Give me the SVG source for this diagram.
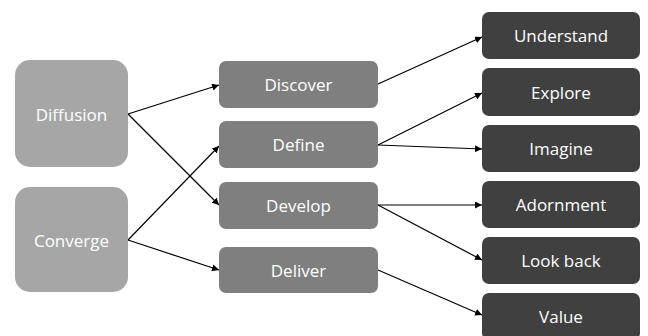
<svg xmlns="http://www.w3.org/2000/svg" width="648" height="336" viewBox="0 0 648 336">
<style>
.t{font-family:"Open Sans","Noto Sans","DejaVu Sans",sans-serif;font-size:17px;fill:#fff;text-anchor:middle;dominant-baseline:central}
.a{fill:#A6A6A6}
.b{fill:#7F7F7F}
.c{fill:#404040}
.e{stroke:#000;stroke-width:1.2;fill:none;marker-end:url(#ah)}
</style>
<defs>
<marker id="ah" viewBox="0 0 10 10" refX="10" refY="5" markerWidth="7" markerHeight="7" markerUnits="userSpaceOnUse" orient="auto">
<path d="M0,0 L10,5 L0,10 z" fill="#000"/>
</marker>
</defs>
<rect width="648" height="336" fill="#fff"/>
<g id="connectors">
<line class="e" x1="128" y1="114" x2="219" y2="85"/>
<line class="e" x1="128" y1="114" x2="219" y2="205"/>
<line class="e" x1="128" y1="240" x2="219" y2="146"/>
<line class="e" x1="128" y1="240" x2="219" y2="270"/>
<line class="e" x1="378" y1="84" x2="482" y2="37"/>
<line class="e" x1="378" y1="145" x2="482" y2="93"/>
<line class="e" x1="378" y1="145" x2="482" y2="149"/>
<line class="e" x1="378" y1="205" x2="482" y2="205"/>
<line class="e" x1="378" y1="205" x2="482" y2="260"/>
<line class="e" x1="378" y1="270" x2="482" y2="315"/>
</g>
<g id="diffusion"><rect class="a" x="15" y="60" width="113" height="107" rx="15"/><text class="t" x="71.5" y="114">Diffusion</text></g>
<g id="converge"><rect class="a" x="15" y="187" width="113" height="105" rx="15"/><text class="t" x="71.5" y="240">Converge</text></g>
<g id="discover"><rect class="b" x="219" y="61" width="159" height="47" rx="7"/><text class="t" x="298.5" y="84.5">Discover</text></g>
<g id="define"><rect class="b" x="219" y="121" width="159" height="47" rx="7"/><text class="t" x="298.5" y="144.5">Define</text></g>
<g id="develop"><rect class="b" x="219" y="182" width="159" height="47" rx="7"/><text class="t" x="298.5" y="205.5">Develop</text></g>
<g id="deliver"><rect class="b" x="219" y="247" width="159" height="46" rx="7"/><text class="t" x="298.5" y="270">Deliver</text></g>
<g id="understand"><rect class="c" x="482" y="12" width="158" height="47" rx="7"/><text class="t" x="561" y="35.5">Understand</text></g>
<g id="explore"><rect class="c" x="482" y="68" width="158" height="48" rx="7"/><text class="t" x="561" y="92">Explore</text></g>
<g id="imagine"><rect class="c" x="482" y="125" width="158" height="47" rx="7"/><text class="t" x="561" y="148.5">Imagine</text></g>
<g id="adornment"><rect class="c" x="482" y="181" width="158" height="47" rx="7"/><text class="t" x="561" y="204.5">Adornment</text></g>
<g id="lookback"><rect class="c" x="482" y="237" width="158" height="47" rx="7"/><text class="t" x="561" y="260.5">Look back</text></g>
<g id="value"><rect class="c" x="482" y="293" width="158" height="47" rx="7"/><text class="t" x="561" y="316.5">Value</text></g>
</svg>
